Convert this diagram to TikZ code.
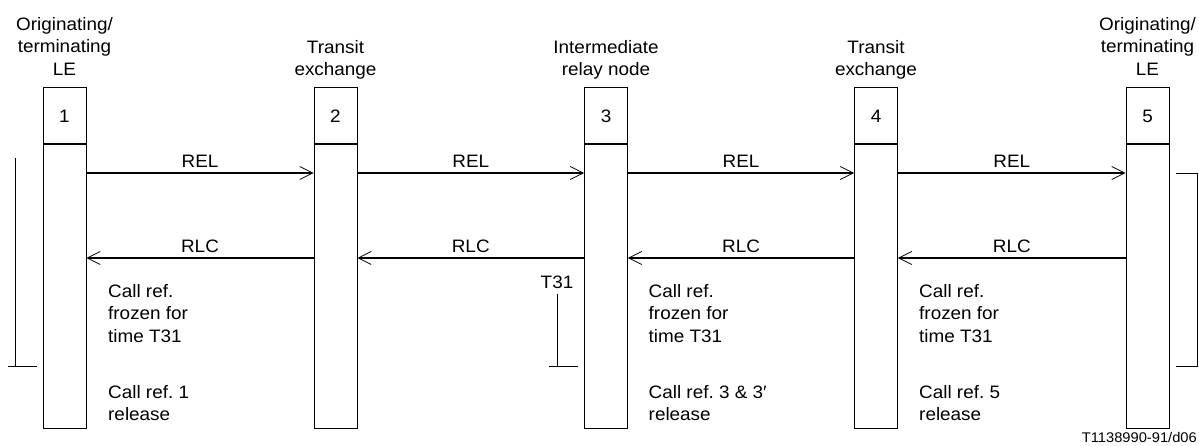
\documentclass[tikz,border=0pt]{standalone}
\usepackage{fontspec}
\setmainfont[FakeStretch=1.05]{Liberation Sans}
\usetikzlibrary{arrows.meta}
\newcommand\mainfs{\fontsize{18pt}{22.5pt}\selectfont}
\newcommand\smallfs{\fontsize{14pt}{16pt}\selectfont}
\frenchspacing
\begin{document}
\begin{tikzpicture}[x=1pt,y=-1pt,
  colbox/.style={draw, line width=0.8pt, minimum width=43pt, minimum height=284pt, inner sep=0pt, anchor=north},
  numbox/.style={draw, line width=0.8pt, minimum width=43pt, minimum height=57pt, inner sep=0pt, anchor=north, font=\mainfs},
  sepline/.style={line width=1.8pt},
  msg/.style={line width=1.8pt, -{Straight Barb[length=13pt,width=13pt,line width=0.8pt]}},
  lbl/.style={inner sep=0pt, anchor=south, yshift=4.5pt, font=\mainfs},
  hdr/.style={inner sep=0pt, anchor=north, align=center, font=\mainfs},
  note/.style={inner sep=0pt, anchor=north west, align=left, font=\mainfs},
  brk/.style={line width=0.8pt}
]
\useasboundingbox (0,0) rectangle (1199,445);

% entities
\foreach \i/\x in {1/64.5, 2/335.5, 3/606, 4/876, 5/1147.5}{
  \node[numbox] (h\i) at (\x,87) {\i};
  \node[colbox] (c\i) at (\x,144) {};
  \draw[sepline] (c\i.north west) -- (c\i.north east);
}

% headers
\node[hdr] (t1) at (64.5,17) {Originating/\\terminating\\LE};
\node[hdr] (t2) at (335.5,40) {Transit\\exchange};
\node[hdr] (t3) at (606,40) {Intermediate\\relay node};
\node[hdr] (t4) at (876,40) {Transit\\exchange};
\node[hdr] (t5) at (1147.5,17) {Originating/\\terminating\\LE};

% messages
\foreach \a/\b in {1/2, 2/3, 3/4, 4/5}{
  \draw[msg] ([yshift=-29pt]c\a.north east) -- ([yshift=-29pt]c\b.north west)
    node[lbl, midway] {REL};
  \draw[msg] ([yshift=-114pt]c\b.north west) -- ([yshift=-114pt]c\a.north east)
    node[lbl, midway] {RLC};
}

% notes
\node[note] (n1a) at (108,284) {Call ref.\\frozen for\\time T31};
\node[note] (n1b) at (108,385) {Call ref. 1\\release};
\node[note] (n3a) at (648.5,284) {Call ref.\\frozen for\\time T31};
\node[note] (n3b) at (648.5,385) {Call ref. 3 \& 3′\\release};
\node[note] (n4a) at (919,284) {Call ref.\\frozen for\\time T31};
\node[note] (n4b) at (919,385) {Call ref. 5\\release};

% timer brackets
\draw[brk] (15,158) -- (15,366) (8,366) -- (37,366);
\node[hdr] (t31) at (557,276) {T31};
\draw[brk] (557,294) -- (557,366) (549,366) -- (578,366);
\draw[brk] (1176,173) -- (1197.5,173) -- (1197.5,366) -- (1176,366);

% figure code
\node[inner sep=0pt, anchor=base east, font=\smallfs] (code) at (1197,442) {T1138990-91/d06};
\end{tikzpicture}
\end{document}
